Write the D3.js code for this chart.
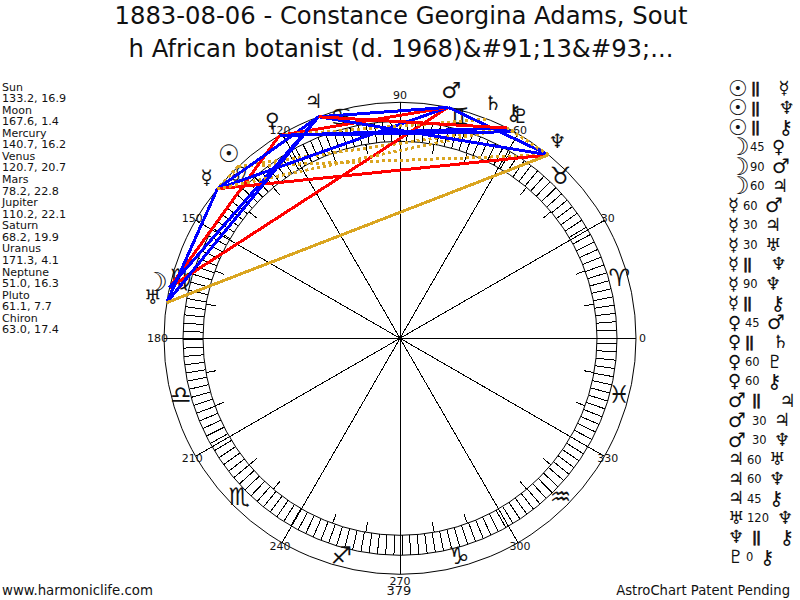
<!DOCTYPE html>
<html><head><meta charset="utf-8">
<script src="https://cdn.jsdelivr.net/npm/d3@7"></script>
<style>html,body{margin:0;padding:0;background:#fff}svg{display:block}text{font-family:"DejaVu Sans",sans-serif;fill:#111}line,circle{shape-rendering:crispEdges}</style>
</head><body><svg id="c" width="800" height="600"></svg>
<script>
const titleLines=["1883-08-06 - Constance Georgina Adams, Sout","h African botanist (d. 1968)&#91;13&#93;..."];
const planetNames=["Sun","Moon","Mercury","Venus","Mars","Jupiter","Saturn","Uranus","Neptune","Pluto","Chiron"];
const planetLon=[133.2,167.6,140.7,120.7,78.2,110.2,68.2,171.3,51.0,61.1,63.0];
const planetLat=[16.9,1.4,16.2,20.7,22.8,22.1,19.9,4.1,16.3,7.7,17.4];
const planetGlyphs=["☉","☽","☿","♀","♂","♃","♄","♅","♆","♇","⚷"];
const signGlyphs=["♈","♉","♊","♋","♌","♍","♎","♏","♐","♑","♒","♓"];
const signCentres=[15,45,75,105,135,165,195,225,255,285,315,345];
const axisDegrees=[0,30,60,90,120,150,180,210,240,270,300,330];
const aspectA=["Sun","Sun","Sun","Moon","Moon","Moon","Mercury","Mercury","Mercury","Mercury","Mercury","Mercury","Venus","Venus","Venus","Venus","Mars","Mars","Mars","Jupiter","Jupiter","Jupiter","Uranus","Neptune","Pluto"];
const aspectType=["||","||","||","45","90","60","60","30","30","||","90","||","45","||","60","60","||","30","30","60","60","45","120","||","0"];
const aspectB=["Mercury","Neptune","Chiron","Venus","Mars","Jupiter","Mars","Jupiter","Uranus","Neptune","Neptune","Chiron","Mars","Saturn","Pluto","Chiron","Jupiter","Jupiter","Neptune","Uranus","Neptune","Chiron","Neptune","Chiron","Chiron"];
const aspectColours={"||":"#daa520","120":"#daa520","90":"#ff0000","45":"#ff0000","60":"#0000ff","30":"#0000ff","0":"#daa520"};

const svg=d3.select("#c"),cx=400,cy=338.3;
const angle=d3.scaleLinear().domain([0,360]).range([0,2*Math.PI]);
const pt=(deg,r)=>[cx+r*Math.cos(angle(deg)),cy-r*Math.sin(angle(deg))];
const R=236,bandOut=217,bandIn=197,tickIn=187;
const line=(a,b,sw,col,dash)=>svg.append("line").attr("x1",a[0]).attr("y1",a[1]).attr("x2",b[0]).attr("y2",b[1]).attr("stroke",col||"#000").attr("stroke-width",sw||1).attr("stroke-dasharray",dash||null);

[R,bandOut,bandIn].forEach(r=>svg.append("circle").attr("cx",cx).attr("cy",cy).attr("r",r).attr("fill","none").attr("stroke","#000").style("shape-rendering","auto"));
d3.range(0,360,2.2).forEach(d=>line(pt(d,bandIn),pt(d,bandOut)));
d3.range(0,360,10).forEach(d=>line(pt(d,tickIn),pt(d,bandIn)));
axisDegrees.forEach(d=>line([cx,cy],pt(d,R)));

axisDegrees.forEach(d=>{
  const r=d===0?R+3:d===180?R-4:d%90===0?R+7:R+4;
  const p=pt(d,r);
  svg.append("text").attr("x",p[0]).attr("y",p[1]+4).attr("font-size",11).attr("fill","#223")
   .attr("text-anchor",d===0?"start":d===180?"end":"middle").text(d);});
svg.append("text").attr("x",399).attr("y",595).attr("text-anchor","middle").attr("font-size",13).text("379");

signGlyphs.forEach((g,i)=>{const p=pt(signCentres[i],227),s=24;
  svg.append("text").attr("x",p[0]).attr("y",p[1]-2+0.35*s).attr("text-anchor","middle").attr("font-size",s).text(g);});

const lonOf=n=>planetLon[planetNames.indexOf(n)];
aspectA.forEach((a,i)=>{const t=aspectType[i];
  line(pt(lonOf(a),R),pt(lonOf(aspectB[i]),R),3,aspectColours[t],(t==="||"||t==="0")?"3,3":null);});

const glyphSize={Sun:22,Moon:24,Mercury:18,Venus:18,Mars:20,Jupiter:18,Saturn:18,Uranus:18,Neptune:18,Pluto:18,Chiron:20};
const numberX={Sun:751,Moon:750,Mercury:743,Venus:745,Mars:752,Jupiter:747,Uranus:747,Neptune:752,Pluto:746};

planetNames.forEach((n,i)=>{const p=pt(planetLon[i],250),s=glyphSize[n]*1.1;
  svg.append("text").attr("x",p[0]).attr("y",p[1]-3+0.35*s).attr("text-anchor","middle").attr("font-size",s).text(planetGlyphs[i]);});

titleLines.forEach((t,i)=>svg.append("text").attr("x",401).attr("y",24+i*32.5).attr("text-anchor","middle").attr("font-size",24.3).text(t));

planetNames.forEach((n,i)=>{
  svg.append("text").attr("x",2).attr("y",90.5+i*23.13).attr("font-size",11).text(n);
  svg.append("text").attr("x",2).attr("y",102+i*23.13).attr("font-size",11.2).text(planetLon[i].toFixed(1)+", "+planetLat[i].toFixed(1));
});

aspectA.forEach((a,i)=>{
  const yc=88+i*19.53,t=aspectType[i],b=aspectB[i],par=t==="||";
  const gA=planetGlyphs[planetNames.indexOf(a)],gB=planetGlyphs[planetNames.indexOf(b)];
  svg.append("text").attr("x",728).attr("y",yc+0.35*glyphSize[a]).attr("font-size",glyphSize[a]).text(gA);
  svg.append("text").attr("x",numberX[a]).attr("y",yc+(par?5:4.5)).attr("font-size",par?14:11.5)
     .attr("font-weight",par?"bold":null).attr("letter-spacing",par?-1:null)
     .attr("stroke",par?"#111":null).attr("stroke-width",par?0.6:null).text(t);
  svg.append("text").attr("x",numberX[a]+(par?27.5:6+8*t.length)).attr("y",yc+0.35*glyphSize[b]).attr("font-size",glyphSize[b]).text(gB);
});
svg.append("text").attr("x",2).attr("y",595).attr("font-size",13.3).text("www.harmoniclife.com");
svg.append("text").attr("x",790).attr("y",595).attr("text-anchor","end").attr("font-size",13.2).text("AstroChart Patent Pending");
</script></body></html>
